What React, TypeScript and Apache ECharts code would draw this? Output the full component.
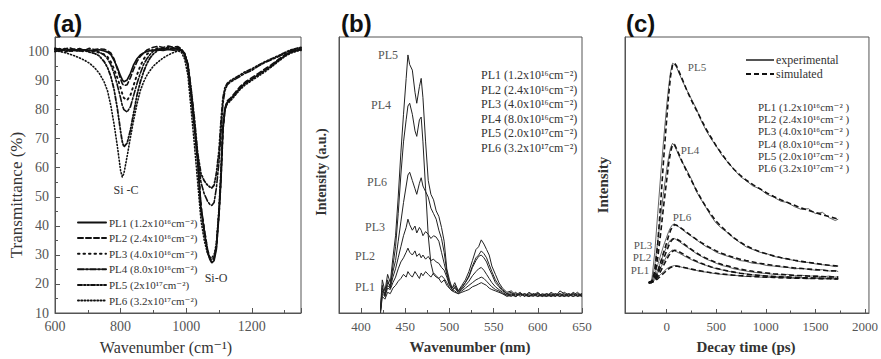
import React, { useEffect, useRef } from "react";
import * as echarts from "echarts";

// ---------- Panel (a): FTIR transmittance ----------
const waveA = [600, 615, 630, 645, 660, 675, 690, 705, 720, 735, 750, 760, 770, 780, 790, 800, 805, 810, 820, 830, 840, 850, 860, 870, 880, 890, 900, 915, 930, 945, 960, 975, 985, 995, 1005, 1015, 1025, 1035, 1045, 1055, 1065, 1072, 1078, 1085, 1092, 1100, 1106, 1112, 1118, 1125, 1135, 1150, 1165, 1180, 1200, 1220, 1240, 1260, 1280, 1300, 1320, 1340, 1350];
const transPL1 = [100.8, 100.3, 100.6, 100.1, 100.5, 100.2, 100.6, 100.3, 100.4, 100.6, 100.2, 99.8, 99, 97, 94.5, 91.5, 90.3, 89.6, 90.2, 92.5, 95.5, 97.5, 98.8, 99.5, 100, 100.3, 100.5, 100.6, 100.4, 100.7, 100.5, 100.6, 100.3, 99, 95, 85, 74, 62, 46, 38, 31, 28.5, 27.3, 28, 32, 44, 56, 73, 80, 82.5, 83.5, 85.5, 87.5, 89, 90.5, 92, 93.5, 95, 96.8, 98.5, 99.8, 100.4, 100.6];
const transPL2 = [101.2, 100.5, 100.9, 101.3, 100.6, 101, 100.4, 101.1, 100.7, 100.9, 100.8, 100.3, 99.5, 97.5, 94, 90.5, 89, 88.2, 88.6, 91, 94, 96.5, 98.3, 99.5, 100.5, 101, 101.5, 101.8, 101.4, 101.9, 101.5, 101.7, 101, 99.2, 95.5, 86, 75, 63, 47, 39, 32, 29, 28, 28.8, 33, 45, 57, 74, 80.5, 83, 84, 86, 88, 89.5, 91, 92.5, 94, 95.5, 97.2, 98.8, 100, 100.8, 100.9];
const transPL3 = [100, 100.4, 99.8, 100.3, 100.1, 100.5, 99.9, 100.3, 100, 99.6, 99, 98.2, 96.5, 94, 91, 87.5, 85.5, 84, 83.2, 85, 88.5, 92, 95, 97.3, 99, 100, 100.7, 101.2, 101, 101.4, 101.2, 101.3, 100.8, 99, 95, 85.5, 74.5, 62.5, 46.5, 38.5, 31.5, 29, 28.3, 29, 33, 44.5, 56.5, 73.5, 80, 82.5, 83.5, 85.5, 87.5, 89, 90.5, 92, 93.5, 95, 97, 98.6, 99.8, 100.5, 100.7];
const transPL4 = [100.6, 101, 100.2, 100.7, 100.4, 100.9, 100.1, 100.5, 100.2, 99.8, 98.8, 97.5, 95.5, 92.5, 88.5, 84, 81.5, 80, 79.2, 81, 85, 89, 92.5, 95.5, 97.5, 99, 100.2, 101, 100.8, 101.3, 101, 101.2, 100.6, 99.2, 95.5, 86.5, 76, 64, 55, 51, 48.5, 47.4, 47, 48, 53, 62, 72, 82, 86.5, 88.5, 89.5, 90.5, 91.5, 92.5, 93.5, 95, 96.2, 97.2, 98.2, 99.3, 100.4, 101, 101.2];
const transPL5 = [100.9, 100.4, 101, 100.5, 100.8, 100.2, 100.6, 99.8, 99.4, 98.5, 96.5, 94.5, 91.5, 87, 80.5, 72.5, 69, 67.2, 68.5, 73, 79, 85, 89.5, 93, 95.8, 97.8, 99.2, 100.5, 100.9, 101.2, 100.9, 101.1, 100.5, 99.4, 96, 87, 77, 65, 58, 55.5, 54, 53.4, 53, 54, 58, 66, 76, 84, 87.5, 89, 90, 91, 92, 93, 94, 95.3, 96.5, 97.5, 98.5, 99.6, 100.6, 101.2, 101.4];
const transPL6 = [100.2, 100, 99.6, 99.1, 98.5, 97.8, 97, 96, 94.5, 92.5, 89.5, 86.5, 81.5, 75, 67.5, 59, 56.8, 58, 64, 70.5, 76.5, 82, 86.5, 89.5, 91.8, 93.5, 95, 96.5, 97.8, 98.8, 99.6, 100.2, 99.8, 97.5, 92, 80, 68, 55, 42, 35, 30.5, 29.2, 29, 30, 34, 46, 60, 74, 80, 82, 83, 85, 87, 88.5, 90, 91.5, 93, 94.7, 96.5, 98.2, 99.5, 100.2, 100.4];
const legendA = ["PL1 (1.2x10¹⁶cm⁻²)", "PL2 (2.4x10¹⁶cm⁻²)", "PL3 (4.0x10¹⁶cm⁻²)", "PL4 (8.0x10¹⁶cm⁻²)", "PL5 (2x10¹⁷cm⁻²)", "PL6 (3.2x10¹⁷cm⁻²)"];
const yTicksA = [10, 20, 30, 40, 50, 60, 70, 80, 90, 100];

// ---------- Panel (b): PL spectra ----------
const waveB = [422, 424, 427, 430, 433, 436, 439, 442, 445, 448, 451, 453, 455, 458, 461, 463, 466, 468, 470, 473, 476, 479, 482, 485, 488, 491, 494, 497, 500, 503, 506, 510, 514, 518, 522, 526, 530, 533, 536, 539, 542, 545, 548, 552, 556, 560, 565, 570, 575, 580, 585, 590, 595, 600, 605, 610, 615, 620, 625, 630, 635, 640, 645, 650];
const plB1 = [0, 6, 5, 7.5, 7, 9, 10, 11.5, 12.5, 14, 13, 15, 14, 13, 15, 14, 12.5, 14.5, 13.5, 15, 14, 13, 14.5, 13.5, 12.5, 13.5, 12.5, 11, 9, 8, 7.5, 7, 7.5, 8, 8.5, 9.5, 10, 10.5, 11, 10.5, 10, 9, 8.5, 8, 7.5, 7, 6, 6.5, 6, 7, 6.5, 6, 6.5, 7, 6.5, 6, 6.5, 7, 6, 6.5, 6, 7, 6, 6.5];
const plB2 = [0.5, 7, 6, 9, 8.5, 11, 13, 16, 18.5, 20, 22, 23.5, 22, 21, 22.5, 20.5, 21.5, 20, 21, 19.5, 20.5, 19, 19.5, 18.5, 18, 16.5, 15.5, 13, 10, 8.5, 8, 7, 8, 9, 10, 11, 12, 12.5, 13, 12.5, 11.5, 10.5, 9.5, 8.5, 8, 7, 6.5, 6, 7, 6.5, 7, 6, 7, 6.5, 6, 7, 6.5, 6, 7, 6, 6.5, 6, 6.5, 7];
const plB3 = [1, 8, 6.5, 10, 9, 13, 16, 20, 24, 28, 31, 34, 32, 30, 31.5, 29, 31, 30, 28, 29.5, 28.5, 27, 28, 27.5, 26, 22, 18, 14, 10.5, 8.5, 9, 7.5, 8.5, 10, 11.5, 13.5, 15, 16, 16.5, 15.5, 14, 12.5, 11, 9.5, 8.5, 7.5, 6.5, 7, 6, 7, 6, 7.5, 6.5, 6, 7, 6.5, 6, 7, 6.5, 6, 7, 6.5, 7.5, 6];
const plB4 = [1, 10, 6, 12, 9, 17, 24, 36, 50, 62, 70, 75, 76, 72, 66, 64, 70, 71, 62, 45, 28, 18, 14, 13, 12.5, 11, 12, 10, 9, 8, 9.5, 7.5, 9, 11, 13.5, 17, 20, 21, 22.5, 21.5, 20, 17.5, 15, 12, 10, 8.5, 7, 7.5, 6, 7, 6.5, 6, 7, 6, 6.5, 7, 6, 6.5, 7, 6.5, 7, 6, 7, 6.5];
const plB5 = [2, 12, 8, 14, 11, 20, 28, 42, 58, 72, 85, 93.5, 90, 88, 80, 76, 82, 85, 78, 62, 48, 43, 41, 37, 35, 31, 26, 16, 12, 9, 11, 8, 10, 12, 15, 19, 23, 24, 26.5, 25, 23, 21, 17, 14, 11, 9, 7.5, 8, 6.5, 7.5, 6, 7, 6.5, 7.5, 6, 6.5, 7, 6, 8, 7, 6, 7.5, 6.5, 6];
const plB6 = [1.5, 9, 7, 11, 10, 15, 19, 26, 33, 40, 46, 50, 51, 48, 45, 43, 47, 49, 46, 44, 42, 38, 36, 34, 30, 27, 22, 15, 11, 9, 10, 8, 9.5, 11, 13, 16.5, 19, 20.5, 21, 20, 18.5, 16, 14, 11, 9.5, 8, 7, 6.5, 7.5, 6, 7, 6.5, 6, 7, 6.5, 6, 7.5, 6.5, 6, 7.5, 6.5, 7, 6, 7];
const legendB = ["PL1 (1.2x10¹⁶cm⁻²)", "PL2 (2.4x10¹⁶cm⁻²)", "PL3 (4.0x10¹⁶cm⁻²)", "PL4 (8.0x10¹⁶cm⁻²)", "PL5 (2.0x10¹⁷cm⁻²)", "PL6 (3.2x10¹⁷cm⁻²)"];
const majorTicksB = [400, 450, 500, 550, 600, 650];
const minorTicksB = [425, 475, 525, 575, 625];

// ---------- Panel (c): decay ----------
const timeC = [-180, -150, -120, -90, -60, -30, 0, 20, 40, 60, 80, 100, 130, 160, 200, 250, 300, 350, 400, 450, 500, 560, 620, 680, 740, 800, 870, 940, 1010, 1080, 1150, 1220, 1290, 1360, 1430, 1500, 1570, 1640, 1700, 1730];
const expC1 = [11, 11.2, 12, 13, 14, 15, 16, 16.5, 16.8, 17, 17.2, 17, 16.8, 16.5, 16.2, 15.8, 15.4, 15, 14.8, 14.5, 14.2, 14, 13.8, 13.6, 13.5, 13.2, 13.3, 13, 12.9, 13, 12.7, 12.8, 12.5, 12.7, 12.4, 12.6, 12.3, 12.5, 12.2, 12.4];
const expC2 = [11, 11.2, 12.5, 14.5, 16.5, 18.5, 20.5, 21.5, 22.3, 22.8, 22.6, 22.2, 21.6, 21, 20.2, 19.3, 18.5, 17.8, 17.2, 16.6, 16, 15.6, 15.1, 14.8, 14.4, 14.2, 13.8, 13.7, 13.4, 13.3, 13, 13.2, 12.8, 12.9, 12.6, 12.8, 12.5, 12.7, 12.4, 12.6];
const expC3 = [11, 11.3, 13, 15.5, 18.5, 21.5, 24, 25.5, 26.5, 27, 27, 26.5, 25.8, 25, 24, 22.8, 21.5, 20.5, 19.5, 18.8, 18, 17.2, 16.7, 16, 15.6, 15.2, 14.8, 14.5, 14.3, 14, 13.8, 14, 13.5, 13.7, 13.3, 13.5, 13.1, 13.4, 13, 13.2];
const expC4 = [11, 11.5, 17, 26, 35, 44, 52, 56.5, 60, 61.5, 60.5, 59, 56.5, 54.5, 52, 48.5, 44, 41, 38, 35, 32.5, 30.5, 29, 27, 25.5, 24, 23, 22, 21.5, 20.5, 20, 19.5, 19, 18.5, 18.3, 17.8, 17.5, 17.2, 16.8, 17];
const expC5 = [11, 12, 22, 36, 50, 63, 75, 82, 87.5, 90.5, 90, 89, 86.5, 84, 81, 77.5, 74, 69.5, 66, 63, 60.5, 57, 54.5, 52, 49.5, 48, 46, 45, 43, 42, 40.5, 40, 38.5, 37.5, 37.8, 36, 36.5, 34.5, 33.5, 34];
const expC6 = [11, 11.5, 14, 17.5, 21, 24.5, 27.5, 29.5, 31, 32, 32.3, 31.8, 31, 30.2, 29, 27.8, 26.5, 25.2, 24, 23.2, 22, 21.2, 20.5, 19.8, 19, 18.7, 18, 17.8, 17.2, 17, 16.7, 16.5, 16, 16.2, 15.8, 15.5, 15.7, 15.2, 15.4, 15];
const simC1 = [11, 11.1, 11.6, 12.4, 13.4, 14.4, 15.4, 16, 16.5, 16.8, 17, 17, 16.8, 16.6, 16.3, 15.9, 15.5, 15.2, 14.9, 14.6, 14.4, 14.1, 13.9, 13.7, 13.5, 13.4, 13.2, 13.1, 13, 12.9, 12.8, 12.7, 12.6, 12.6, 12.5, 12.5, 12.4, 12.4, 12.3, 12.3];
const simC2 = [11, 11.1, 11.8, 13.2, 15.2, 17.3, 19.4, 20.7, 21.7, 22.4, 22.7, 22.6, 22.1, 21.5, 20.6, 19.6, 18.8, 18, 17.3, 16.7, 16.2, 15.7, 15.2, 14.8, 14.4, 14.1, 13.8, 13.6, 13.4, 13.2, 13.1, 13, 12.9, 12.8, 12.7, 12.7, 12.6, 12.6, 12.5, 12.5];
const simC3 = [11, 11.1, 12, 14, 16.8, 19.8, 22.5, 24.3, 25.8, 26.7, 27, 26.8, 26.2, 25.4, 24.3, 23, 21.8, 20.7, 19.8, 19, 18.3, 17.6, 17, 16.4, 15.9, 15.5, 15.1, 14.8, 14.5, 14.2, 14, 13.8, 13.6, 13.5, 13.4, 13.3, 13.2, 13.1, 13, 13];
const simC4 = [11, 11.2, 13.5, 20, 29, 39, 48, 54, 58.5, 61, 61, 59.5, 57, 54.5, 51.5, 48, 44.5, 41.2, 38.3, 35.6, 33.2, 31, 29, 27.2, 25.7, 24.4, 23.2, 22.2, 21.4, 20.7, 20.1, 19.6, 19.1, 18.7, 18.3, 18, 17.6, 17.3, 17.1, 17];
const simC5 = [11, 11.5, 15, 25, 40, 56, 70, 79, 86, 90, 90.5, 89.5, 87, 84.5, 81, 77, 73.5, 70, 66.5, 63.5, 60.5, 57.5, 54.5, 52, 50, 48.2, 46.5, 45, 43.5, 42.2, 41, 40, 39, 38, 37.2, 36.4, 35.6, 34.9, 34.3, 34];
const simC6 = [11, 11.2, 12.5, 15, 18.5, 22, 25.5, 28, 30, 31.3, 32, 31.8, 31.2, 30.4, 29.3, 28, 26.7, 25.5, 24.4, 23.4, 22.5, 21.6, 20.8, 20.1, 19.5, 19, 18.5, 18, 17.6, 17.2, 16.9, 16.6, 16.3, 16.1, 15.9, 15.7, 15.5, 15.3, 15.2, 15.1];
const legendC = ["PL1 (1.2x10¹⁶cm⁻² )", "PL2 (2.4x10¹⁶cm⁻² )", "PL3 (4.0x10¹⁶cm⁻² )", "PL4 (8.0x10¹⁶cm⁻² )", "PL5 (2.0x10¹⁷cm⁻² )", "PL6 (3.2x10¹⁷cm⁻² )"];
const majorTicksC = [0, 500, 1000, 1500, 2000];
const minorTicksC = [-250, 250, 750, 1250, 1750];

const SERIF = '"Liberation Serif", "DejaVu Serif", serif';
const SANS = '"Liberation Sans", Arial, sans-serif';
const AXIS_COLOR = "#555";
const TEXT_COLOR = "#333";

const pair = (xs: number[], ys: number[]) => xs.map((x, i) => [x, ys[i]]);

function txt(text: string, x: number, y: number, o: any = {}) {
  return {
    type: "text",
    x,
    y,
    rotation: o.rotation || 0,
    silent: true,
    style: {
      text,
      fill: o.color || TEXT_COLOR,
      fontSize: o.size || 12,
      fontFamily: o.family || SERIF,
      fontWeight: o.weight || "normal",
      align: o.align || "left",
      verticalAlign: "middle",
      textAlign: o.align || "left",
      textVerticalAlign: "middle",
    },
  };
}

function buildOption() {
  const aStyles = [
    { width: 1.7, type: "solid" },
    { width: 1.6, type: [5, 3] },
    { width: 1.9, type: [1.5, 4] },
    { width: 1.6, type: [6, 2, 2, 2] },
    { width: 1.8, type: [4, 2, 1.5, 2, 1.5, 2] },
    { width: 1.6, type: [1, 2.2] },
  ];
  const aData = [transPL1, transPL2, transPL3, transPL4, transPL5, transPL6];
  const bData = [plB1, plB2, plB3, plB4, plB5, plB6];
  const cExp = [expC1, expC2, expC3, expC4, expC5, expC6];
  const cSim = [simC1, simC2, simC3, simC4, simC5, simC6];

  const series: any[] = [];
  aData.forEach((d, i) => {
    series.push({
      type: "line",
      name: legendA[i],
      xAxisIndex: 0,
      yAxisIndex: 0,
      data: pair(waveA, d),
      symbol: "none",
      itemStyle: { color: "#111" },
      lineStyle: { color: "#111", width: aStyles[i].width, type: aStyles[i].type, cap: "round" },
    });
  });
  bData.forEach((d, i) => {
    series.push({
      type: "line",
      name: "b" + (i + 1),
      xAxisIndex: 2,
      yAxisIndex: 2,
      data: pair(waveB, d),
      symbol: "none",
      itemStyle: { color: "#222" },
      lineStyle: { color: "#222", width: 1 },
    });
  });
  cExp.forEach((d) => {
    series.push({
      type: "line",
      name: "experimental",
      xAxisIndex: 4,
      yAxisIndex: 3,
      data: pair(timeC, d),
      symbol: "none",
      itemStyle: { color: "#555" },
      lineStyle: { color: "#555", width: 0.9 },
    });
  });
  cSim.forEach((d) => {
    series.push({
      type: "line",
      name: "simulated",
      xAxisIndex: 4,
      yAxisIndex: 3,
      data: pair(timeC, d),
      symbol: "none",
      itemStyle: { color: "#111" },
      lineStyle: { color: "#111", width: 1.6, type: [5, 3] },
    });
  });

  const axisLine = { show: true, onZero: false, lineStyle: { color: AXIS_COLOR, width: 1 } };
  const noLine = { show: false, onZero: false };
  const tickStyle = { color: AXIS_COLOR, width: 1 };
  const labelStyle = { color: "#555", fontFamily: SERIF };
  const plain = (v: number) => String(v);

  const xAxis: any[] = [
    {
      gridIndex: 0, type: "value", min: 600, max: 1350, interval: 200, position: "bottom",
      axisLine, axisTick: { inside: true, length: 5, lineStyle: tickStyle },
      axisLabel: { ...labelStyle, fontSize: 14, margin: 6, formatter: (v: number) => (v % 200 === 0 ? String(v) : "") },
      splitLine: { show: false },
    },
    {
      gridIndex: 0, type: "value", min: 600, max: 1350, interval: 100, position: "bottom",
      axisLine: noLine, axisTick: { inside: true, length: 3, lineStyle: tickStyle },
      axisLabel: { show: false }, splitLine: { show: false },
    },
    {
      gridIndex: 1, type: "value", min: 375, max: 650, position: "bottom",
      axisLine, axisTick: { inside: true, length: 5, lineStyle: tickStyle, customValues: majorTicksB },
      axisLabel: { ...labelStyle, fontSize: 13, margin: 7, customValues: majorTicksB, formatter: plain },
      splitLine: { show: false },
    },
    {
      gridIndex: 1, type: "value", min: 375, max: 650, position: "bottom",
      axisLine: noLine, axisTick: { inside: true, length: 3, lineStyle: tickStyle, customValues: minorTicksB },
      axisLabel: { show: false }, splitLine: { show: false },
    },
    {
      gridIndex: 2, type: "value", min: -420, max: 2040, position: "bottom",
      axisLine, axisTick: { inside: true, length: 4, lineStyle: tickStyle, customValues: majorTicksC },
      axisLabel: { ...labelStyle, fontSize: 13, margin: 7, customValues: majorTicksC, formatter: plain },
      splitLine: { show: false },
    },
    {
      gridIndex: 2, type: "value", min: -420, max: 2040, position: "bottom",
      axisLine: noLine, axisTick: { inside: true, length: 2.5, lineStyle: tickStyle, customValues: minorTicksC },
      axisLabel: { show: false }, splitLine: { show: false },
    },
  ];

  const yAxis: any[] = [
    {
      gridIndex: 0, type: "value", min: 10, max: 105, interval: 10, position: "left",
      axisLine, axisTick: { inside: true, length: 5, lineStyle: tickStyle },
      axisLabel: { ...labelStyle, fontSize: 14, margin: 6, formatter: (v: number) => (yTicksA.indexOf(v) >= 0 ? String(v) : "") },
      splitLine: { show: false },
    },
    {
      gridIndex: 0, type: "value", min: 10, max: 105, interval: 5, position: "left",
      axisLine: noLine, axisTick: { inside: true, length: 3, lineStyle: tickStyle },
      axisLabel: { show: false }, splitLine: { show: false },
    },
    {
      gridIndex: 1, type: "value", min: 0, max: 100, position: "left",
      axisLine, axisTick: { show: false }, axisLabel: { show: false }, splitLine: { show: false },
    },
    {
      gridIndex: 2, type: "value", min: 0, max: 100, position: "left",
      axisLine, axisTick: { show: false }, axisLabel: { show: false }, splitLine: { show: false },
    },
  ];

  const gridBase = { top: 37, height: 276, show: true, borderColor: AXIS_COLOR, borderWidth: 1, containLabel: false };
  const grid = [
    { ...gridBase, left: 55, width: 246 },
    { ...gridBase, left: 339, width: 243 },
    { ...gridBase, left: 625, width: 247 },
  ];

  const legend = [
    {
      data: legendA,
      orient: "vertical",
      left: 72,
      top: 212,
      itemWidth: 28,
      itemHeight: 12,
      itemGap: 4.6,
      selectedMode: false,
      itemStyle: { opacity: 0 },
      textStyle: { fontSize: 11, fontFamily: SERIF, color: TEXT_COLOR, padding: [0, 0, 0, -2] },
    },
    {
      data: ["experimental", "simulated"],
      orient: "vertical",
      left: 740,
      top: 49,
      itemWidth: 28,
      itemHeight: 14,
      itemGap: 2,
      selectedMode: false,
      itemStyle: { opacity: 0 },
      textStyle: { fontSize: 12, fontFamily: SERIF, color: TEXT_COLOR, padding: [0, 0, 0, -3] },
    },
  ];

  const graphic: any[] = [
    txt("(a)", 53, 23, { size: 24, family: SANS, weight: "bold", color: "#111" }),
    txt("(b)", 341, 23, { size: 24, family: SANS, weight: "bold", color: "#111" }),
    txt("(c)", 626, 23, { size: 24, family: SANS, weight: "bold", color: "#111" }),
    txt("Transmittance (%)", 16, 195, { size: 17, align: "center", rotation: Math.PI / 2 }),
    txt("Wavenumber (cm⁻¹)", 166, 347, { size: 16, align: "center" }),
    txt("Intensity (a.u.)", 321, 172, { size: 14, weight: "bold", align: "center", rotation: Math.PI / 2 }),
    txt("Wavenumber (nm)", 470, 347, { size: 15, weight: "bold", align: "center" }),
    txt("Intensity", 603, 185, { size: 15, weight: "bold", align: "center", rotation: Math.PI / 2 }),
    txt("Decay time (ps)", 746, 347, { size: 15, weight: "bold", align: "center" }),
    txt("Si -C", 126, 190, { size: 12, align: "center" }),
    txt("Si-O", 216, 278, { size: 12, align: "center" }),
  ];
  legendB.forEach((t, i) => graphic.push(txt(t, 481, 75 + 14.6 * i, { size: 12 })));
  legendC.forEach((t, i) => graphic.push(txt(t, 758, 107 + 12.2 * i, { size: 11 })));
  const bLabels: [string, number, number][] = [
    ["PL5", 388, 55], ["PL4", 381, 105], ["PL6", 377, 182], ["PL3", 375, 227], ["PL2", 365, 256], ["PL1", 365, 287],
  ];
  bLabels.forEach(([t, x, y]) => graphic.push(txt(t, x, y, { size: 12, align: "center", color: "#555" })));
  const cLabels: [string, number, number][] = [
    ["PL5", 697, 67], ["PL4", 690, 150], ["PL6", 682, 217], ["PL3", 643, 245], ["PL2", 642, 257], ["PL1", 640, 270],
  ];
  cLabels.forEach(([t, x, y]) => graphic.push(txt(t, x, y, { size: 11, align: "center", color: "#555" })));

  return {
    animation: false,
    backgroundColor: "#fff",
    grid,
    xAxis,
    yAxis,
    legend,
    series,
    graphic,
  };
}

export default function App() {
  const ref = useRef<HTMLDivElement>(null);
  useEffect(() => {
    if (!ref.current) return;
    const chart = echarts.init(ref.current, null, { renderer: "svg" });
    chart.setOption(buildOption() as any);
    return () => chart.dispose();
  }, []);
  return (
    <div
      ref={ref}
      style={{ position: "fixed", left: 0, top: 0, width: 881, height: 359, background: "#fff" }}
    />
  );
}
